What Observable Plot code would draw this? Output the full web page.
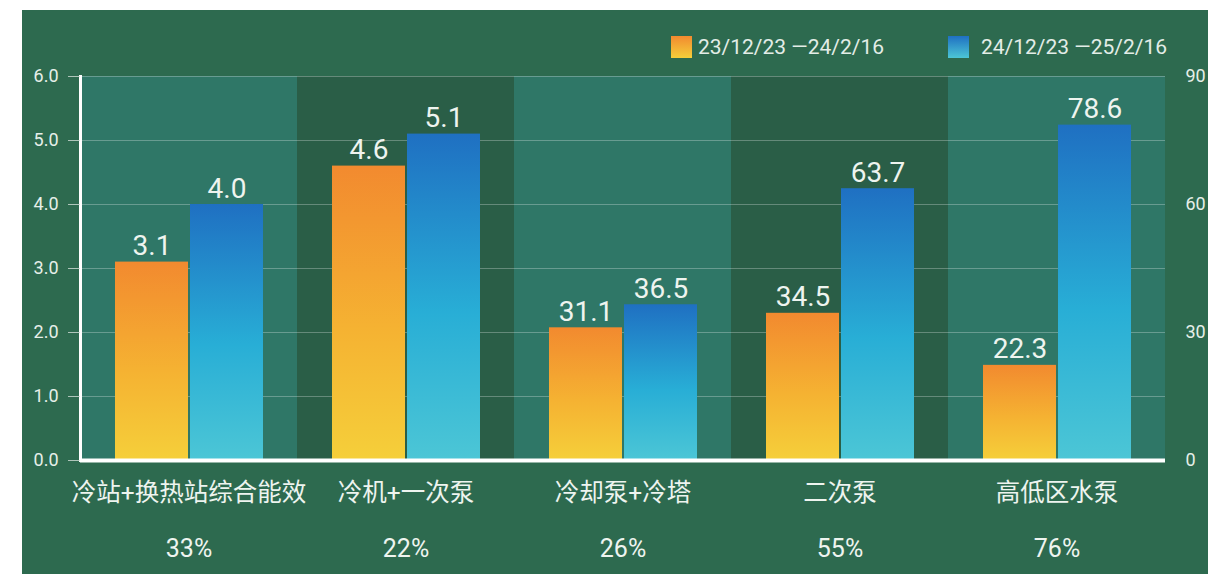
<!DOCTYPE html>
<html>
<head>
<meta charset="utf-8">
<script src="https://cdn.jsdelivr.net/npm/d3@7"></script>
<script src="https://cdn.jsdelivr.net/npm/@observablehq/plot@0.6"></script>
<style>
  html, body { margin: 0; padding: 0; background: #ffffff; }
  #wrap { position: absolute; left: 22px; top: 10px; width: 1186px; height: 564px; background: #2d6a4f; overflow: hidden;
          font-family: Roboto, "Noto Sans CJK SC", sans-serif; }
  #chart { position: absolute; left: 0; top: 0; }
  .leg { position: absolute; top: 26px; height: 22px; display: flex; align-items: center; color: #e3ede7; font-size: 21px; white-space: nowrap; }
  .sw { width: 21px; height: 22px; margin-right: 6px; }
</style>
</head>
<body>
<div id="wrap">
  <div id="chart"></div>
  <div id="legend"></div>
</div>
<script>
// ---- data ----
const categories = ["冷站+换热站综合能效", "冷机+一次泵", "冷却泵+冷塔", "二次泵", "高低区水泵"];
const seriesNames = ["23/12/23 —24/2/16", "24/12/23 —25/2/16"];
const period1 = [3.1, 4.6, 31.1, 34.5, 22.3];
const period2 = [4.0, 5.1, 36.5, 63.7, 78.6];
const axisSide = ["left", "left", "right", "right", "right"];
const savings = ["33%", "22%", "26%", "55%", "76%"];
const leftTicks = [0, 1, 2, 3, 4, 5, 6];
const rightTicks = [0, 30, 60, 90];
const leftMax = 6, rightMax = 90;

const bandColors = ["#2f7767", "#2a5e47"];
const textColor = "#e6efe9";

const ratio = rightMax / leftMax;
const toLeft = (v, side) => side === "right" ? v / ratio : v;

const rows = categories.map((c, i) => ({cat: c, idx: i, pct: savings[i], band: bandColors[i % 2]}));
const bars = [];
categories.forEach((c, i) => {
  bars.push({cat: c, series: seriesNames[0], value: period1[i], h: toLeft(period1[i], axisSide[i])});
  bars.push({cat: c, series: seriesNames[1], value: period2[i], h: toLeft(period2[i], axisSide[i])});
});
const bars1 = bars.filter(d => d.series === seriesNames[0]);
const bars2 = bars.filter(d => d.series === seriesNames[1]);

const chart = Plot.plot({
  width: 1186,
  height: 564,
  marginLeft: 58,
  marginRight: 43,
  marginTop: 66,
  marginBottom: 114,
  style: {background: "transparent", fontFamily: 'Roboto, "Noto Sans CJK SC", sans-serif', color: textColor},
  fx: {domain: categories, padding: 0, axis: null},
  x: {domain: seriesNames, paddingInner: 0.027, paddingOuter: 0.46, axis: null},
  y: {domain: [0, leftMax], axis: null},
  color: {type: "identity"},
  marks: [
    Plot.rect(rows, {fx: "cat", y1: 0, y2: leftMax, fill: "band"}),
    Plot.gridY(leftTicks, {stroke: "#ffffff", strokeOpacity: 0.28, strokeWidth: 1}),
    Plot.barY(bars1, {fx: "cat", x: "series", y: "h", fill: "url(#gradOrange)"}),
    Plot.barY(bars2, {fx: "cat", x: "series", y: "h", fill: "url(#gradBlue)"}),
    Plot.text(bars, {fx: "cat", x: "series", y: "h", text: d => d.value.toFixed(1), lineAnchor: "bottom", dy: -7, fontSize: 28, fill: "#eef4ef"}),
    Plot.ruleY([0], {stroke: "#ffffff", strokeWidth: 4}),
    Plot.frame({anchor: "left", stroke: "#ffffff", strokeWidth: 3, facetAnchor: "left"}),
    Plot.axisY(leftTicks, {anchor: "left", label: null, tickSize: 12, tickPadding: 10, tickFormat: d => d.toFixed(1), fontSize: 18, stroke: "#cfdcd4", strokeOpacity: 0.8, fill: textColor}),
    Plot.axisY(rightTicks.map(v => v / ratio), {anchor: "right", label: null, tickSize: 0, tickPadding: 20, tickFormat: d => String(Math.round(d * ratio)), fontSize: 18, fill: textColor}),
    Plot.text(rows, {fx: "cat", text: "cat", frameAnchor: "bottom", lineAnchor: "middle", dy: 33, fontSize: 24.5, fill: "#eef4ef"}),
    Plot.text(rows, {fx: "cat", text: "pct", frameAnchor: "bottom", lineAnchor: "middle", dy: 88, fontSize: 25, fill: "#eef4ef"})
  ]
});

// gradients for bar fills
const ns = "http://www.w3.org/2000/svg";
const defs = document.createElementNS(ns, "defs");
function grad(id, stops) {
  const g = document.createElementNS(ns, "linearGradient");
  g.setAttribute("id", id);
  g.setAttribute("x1", "0"); g.setAttribute("y1", "0");
  g.setAttribute("x2", "0"); g.setAttribute("y2", "1");
  stops.forEach(([o, c]) => {
    const s = document.createElementNS(ns, "stop");
    s.setAttribute("offset", o);
    s.setAttribute("stop-color", c);
    g.appendChild(s);
  });
  defs.appendChild(g);
}
grad("gradOrange", [["0%", "#f28a2f"], ["55%", "#f5b232"], ["100%", "#f5cf3a"]]);
grad("gradBlue", [["0%", "#1f70c2"], ["55%", "#28aed6"], ["100%", "#4cc6d6"]]);
const svgEl = chart.tagName.toLowerCase() === "svg" ? chart : chart.querySelector("svg");
svgEl.insertBefore(defs, svgEl.firstChild);
document.getElementById("chart").appendChild(chart);

// legend
const legend = document.getElementById("legend");
const legendItems = [
  {name: seriesNames[0], left: 649, bg: "linear-gradient(#f28a2f, #f5cf3a)"},
  {name: seriesNames[1], left: 926, bg: "linear-gradient(#1f70c2, #4cc6d6)"}
];
legendItems.forEach((it, i) => {
  const d = document.createElement("div");
  d.className = "leg";
  d.style.left = it.left + "px";
  const sw = document.createElement("div");
  sw.className = "sw";
  sw.style.background = it.bg;
  if (i === 1) sw.style.marginRight = "12px";
  const t = document.createElement("span");
  t.textContent = it.name;
  d.appendChild(sw); d.appendChild(t);
  legend.appendChild(d);
});
</script>
</body>
</html>
